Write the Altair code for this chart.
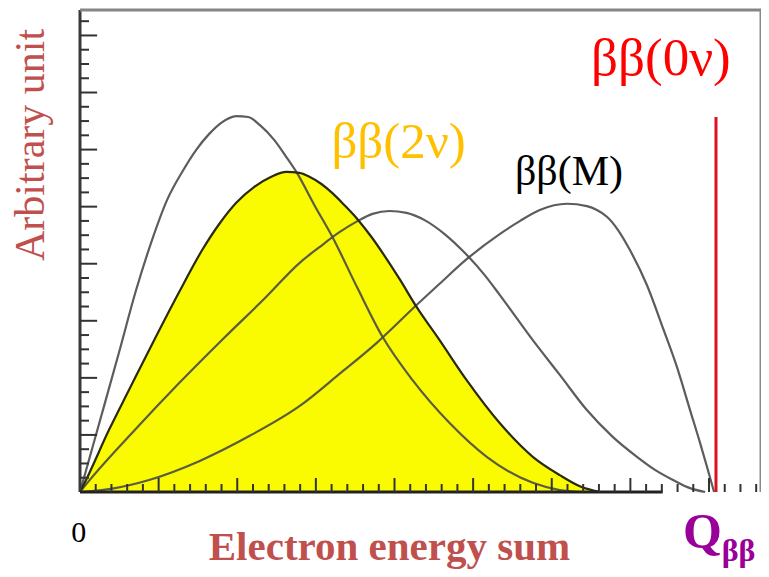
import altair as alt
import pandas as pd
import numpy as np

# ---- spectra (x: fraction of Q_bb, y: arbitrary unit) ----
tall_x = [0, 0.030, 0.0616, 0.0885, 0.1137, 0.1374, 0.1611, 0.1833, 0.2038, 0.2227, 0.2464,
          0.2654, 0.2838, 0.3065, 0.3254, 0.3412, 0.3697, 0.3981, 0.4376, 0.4771, 0.5245,
          0.5829, 0.6414, 0.7141, 0.7567, 0.7883]
tall_y = [0, 0.141, 0.290, 0.419, 0.523, 0.606, 0.664, 0.710, 0.743, 0.766, 0.780,
          0.778, 0.761, 0.730, 0.695, 0.664, 0.595, 0.529, 0.423, 0.322, 0.232,
          0.143, 0.073, 0.019, 0.004, 0.0]

two_nu_x = [0, 0.0095, 0.0458, 0.0774, 0.1169, 0.1564, 0.1927, 0.2196, 0.2464, 0.2749, 0.3017,
            0.3254, 0.3460, 0.3618, 0.3807, 0.3981, 0.4171, 0.4376, 0.4597, 0.4803, 0.5039,
            0.5308, 0.5671, 0.6098, 0.6619, 0.7141, 0.7567, 0.7883, 0.8199]
two_nu_y = [0, 0.025, 0.129, 0.212, 0.315, 0.415, 0.502, 0.556, 0.600, 0.633, 0.654,
            0.664, 0.662, 0.654, 0.639, 0.620, 0.595, 0.566, 0.529, 0.490, 0.442,
            0.384, 0.315, 0.232, 0.143, 0.073, 0.035, 0.012, 0.0]

mid_x = [0, 0.0142, 0.0853, 0.1564, 0.2275, 0.2938, 0.3460, 0.3776, 0.4092, 0.4376, 0.4613,
         0.4882, 0.5150, 0.5434, 0.5750, 0.6098, 0.6382, 0.6619, 0.7141, 0.7567, 0.7994,
         0.8389, 0.8784, 0.9068, 0.9352, 0.9621, 0.9858]
mid_y = [0, 0.023, 0.127, 0.226, 0.320, 0.405, 0.475, 0.508, 0.539, 0.562, 0.577,
         0.583, 0.579, 0.564, 0.535, 0.492, 0.450, 0.409, 0.315, 0.243, 0.170,
         0.116, 0.073, 0.046, 0.025, 0.008, 0.0]

right_x = [0, 0.0458, 0.1090, 0.1880, 0.2670, 0.3460, 0.4092, 0.4676, 0.5308, 0.5671, 0.6098,
           0.6619, 0.6935, 0.7251, 0.7678, 0.7994, 0.8152, 0.8310, 0.8483, 0.8673, 0.8942,
           0.9194, 0.9415, 0.9621, 0.9779, 0.9889, 1.0]
right_y = [0, 0.006, 0.025, 0.064, 0.116, 0.178, 0.245, 0.309, 0.388, 0.432, 0.483,
           0.535, 0.562, 0.585, 0.598, 0.593, 0.585, 0.571, 0.544, 0.502, 0.429,
           0.340, 0.259, 0.170, 0.102, 0.052, 0.0]

zero_nu_x = [1.003]
zero_nu_top = [0.778]

XMAX = 1.074
xs = alt.Scale(domain=[0, XMAX], nice=False, zero=False)
ys = alt.Scale(domain=[0, 1], nice=False, zero=False)
X = lambda f: alt.X(f, scale=xs, axis=None)
Y = lambda f: alt.Y(f, scale=ys, axis=None)

SERIF = "Liberation Serif"

curves = pd.concat([
    pd.DataFrame({"x": tall_x, "y": tall_y, "s": "tall"}),
    pd.DataFrame({"x": mid_x, "y": mid_y, "s": "mid"}),
    pd.DataFrame({"x": right_x, "y": right_y, "s": "right"}),
])
yellow = pd.DataFrame({"x": two_nu_x, "y": two_nu_y})

area = alt.Chart(yellow).mark_area(color="#fafa00", interpolate="monotone").encode(
    x=X("x:Q"), y=Y("y:Q"))
yellow_line = alt.Chart(yellow).mark_line(color="#2a2a10", strokeWidth=2.2,
                                          interpolate="monotone").encode(x=X("x:Q"), y=Y("y:Q"))
lines = alt.Chart(curves).mark_line(color="#4a4a4a", strokeWidth=2.2, interpolate="monotone",
                                    opacity=0.9).encode(
    x=X("x:Q"), y=Y("y:Q"), detail="s:N")

red = alt.Chart(pd.DataFrame({"x": zero_nu_x, "y": [0.0], "y2": zero_nu_top})).mark_rule(
    color="#dd1020", strokeWidth=3).encode(x=X("x:Q"), y=Y("y:Q"), y2="y2:Q")

# ---- frame ----
frame_df = pd.DataFrame({
    "x": [0, 0, XMAX, 0], "x2": [0, XMAX, XMAX, 0.919],
    "y": [0, 1, 0, 0], "y2": [1, 1, 1, 0],
    "c": ["#3a3a3a", "#858585", "#8a8a8a", "#222222"]})
frame = alt.Chart(frame_df).mark_rule(strokeWidth=3).encode(
    x=X("x:Q"), x2="x2:Q", y=Y("y:Q"), y2="y2:Q", color=alt.Color("c:N", scale=None))

# ---- inside ticks ----
ny = np.arange(1, 34)
yt = pd.DataFrame({"y": ny * 0.0296, "x0": 0.0,
                   "x1": np.where(ny % 4 == 0, 0.027, 0.0142)})
yticks = alt.Chart(yt).mark_rule(color="#333333", strokeWidth=2).encode(
    x=X("x0:Q"), x2="x1:Q", y=Y("y:Q"))
nx = np.arange(1, 44)
xt = pd.DataFrame({"x": nx * 0.0248, "y0": 0.0,
                   "y1": np.where(nx % 5 == 0, 0.029, 0.0166)})
xticks = alt.Chart(xt).mark_rule(color="#333333", strokeWidth=2).encode(
    x=X("x:Q"), y=Y("y0:Q"), y2="y1:Q")

def txt(text, x, y, size, color, bold=False, align="left", angle=0):
    df = pd.DataFrame({"x": [x], "y": [y], "t": [text]})
    kw = dict(font=SERIF, fontSize=size, color=color, align=align, baseline="alphabetic",
              fontWeight="bold" if bold else "normal")
    if angle:
        kw["angle"] = angle
    return alt.Chart(df).mark_text(**kw).encode(x=X("x:Q"), y=Y("y:Q"), text="t:N")

texts = [
    txt("ββ(2ν)", 0.3965, 0.693, 51, "#ffc000"),
    txt("ββ(M)", 0.686, 0.637, 42, "#000000"),
    txt("ββ(0ν)", 0.806, 0.865, 53, "#ff0000"),
    txt("Q", 0.951, -0.116, 50, "#990099", bold=True),
    txt("ββ", 1.012, -0.143, 32, "#990099", bold=True),
    txt("0", -0.002, -0.104, 30, "#000000", align="center"),
    txt("Electron energy sum", 0.488, -0.142, 41, "#c0504d", bold=True, align="center"),
    txt("Arbitrary unit", -0.0569, 0.72, 42, "#c0504d", align="center", angle=270),
]

chart = alt.layer(area, lines, yellow_line, red, frame, yticks, xticks, *texts).properties(
    width=681, height=482,
    autosize=alt.AutoSizeParams(type="none"),
    padding={"left": 72, "top": 2, "right": 0, "bottom": 77},
).configure_view(strokeWidth=0)

chart.save("out.html", embed_options={"renderer": "svg", "actions": False})
